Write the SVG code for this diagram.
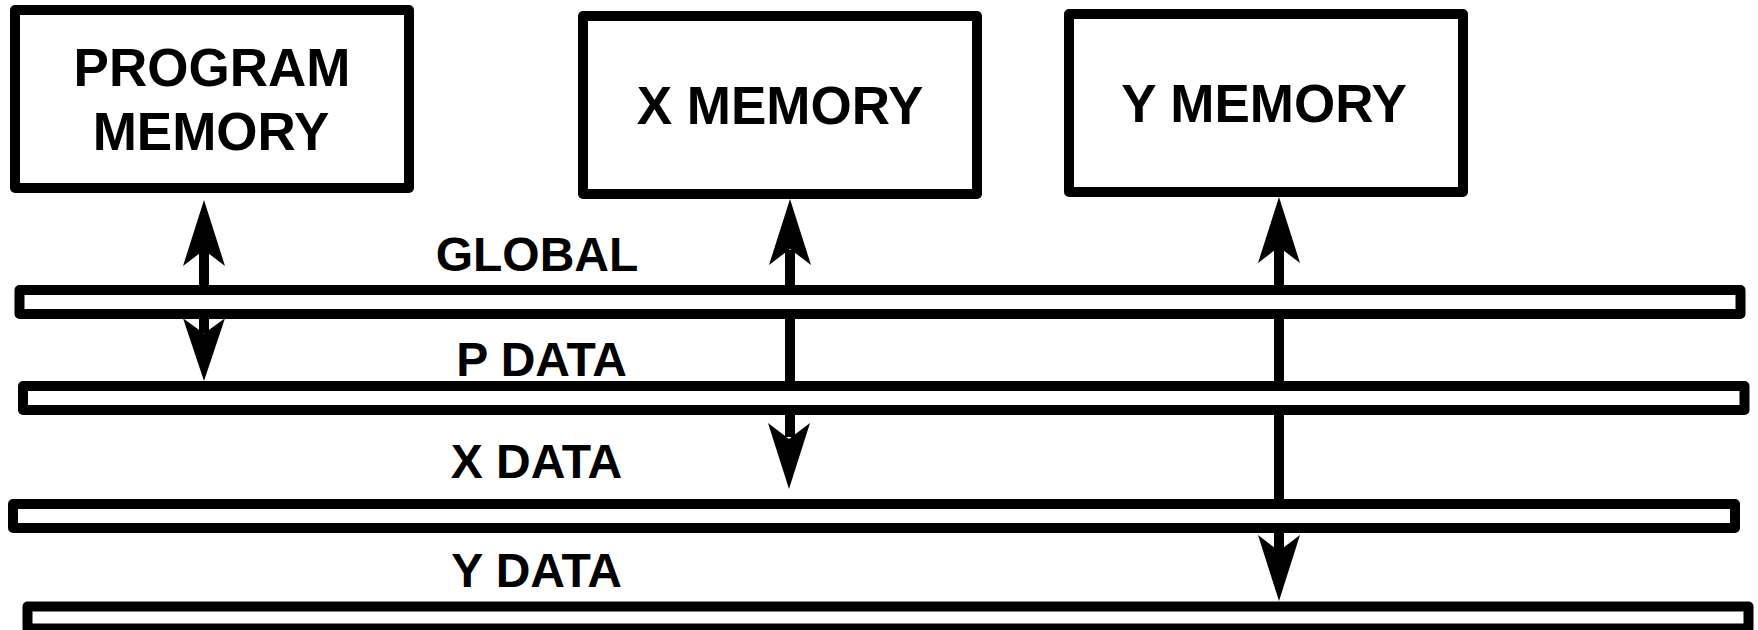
<svg xmlns="http://www.w3.org/2000/svg" xmlns:xlink="http://www.w3.org/1999/xlink" width="1758" height="630" viewBox="0 0 1758 630">
  <style>
    .box { fill: #ffffff; stroke: #000000; stroke-width: 10; stroke-linejoin: round; }
    .bus { fill: #ffffff; stroke: #000000; stroke-width: 10; stroke-linejoin: round; }
    .shaft { stroke: #000000; stroke-width: 10; fill: none; }
    .head { fill: #000000; stroke: none; }
    .t { font-family: "Liberation Sans", Arial, sans-serif; font-weight: bold; fill: #000000; text-anchor: middle; }
    .big { font-size: 53px; }
    .lbl { font-size: 48px; }
  </style>
  <defs>
    <polygon id="ahUp" class="head" points="0,0 21,66 0,50 -21,66"/>
    <polygon id="ahDown" class="head" points="0,0 21,-66 0,-50 -21,-66"/>
  </defs>
  <rect width="1758" height="630" fill="#ffffff"/>

  <g id="connectors">
    <line class="shaft" x1="204" y1="250" x2="204" y2="333"/>
    <use xlink:href="#ahUp" href="#ahUp" x="204" y="200"/>
    <use xlink:href="#ahDown" href="#ahDown" transform="translate(204,381) scale(1,0.95)"/>

    <line class="shaft" x1="790" y1="250" x2="790" y2="437"/>
    <use xlink:href="#ahUp" href="#ahUp" x="790" y="199"/>
    <use xlink:href="#ahDown" href="#ahDown" x="789" y="489"/>

    <line class="shaft" x1="1279" y1="245" x2="1279" y2="551"/>
    <use xlink:href="#ahUp" href="#ahUp" x="1279" y="197"/>
    <use xlink:href="#ahDown" href="#ahDown" x="1279" y="601"/>
  </g>

  <g id="program-memory">
    <rect class="box" x="15" y="10" width="394" height="178"/>
    <text class="t big" x="212" y="86">PROGRAM</text>
    <text class="t big" x="211" y="150">MEMORY</text>
  </g>
  <g id="x-memory">
    <rect class="box" x="583" y="16" width="394" height="178"/>
    <text class="t big" x="780" y="124">X MEMORY</text>
  </g>
  <g id="y-memory">
    <rect class="box" x="1069" y="14" width="394" height="178"/>
    <text class="t big" x="1264" y="122">Y MEMORY</text>
  </g>

  <g id="global-bus">
    <rect class="bus" x="19.5" y="290" width="1721" height="24"/>
    <text class="t lbl" x="537" y="271">GLOBAL</text>
  </g>
  <g id="p-data-bus">
    <rect class="bus" x="23" y="386" width="1721.5" height="24"/>
    <text class="t lbl" x="541.5" y="376">P DATA</text>
  </g>
  <g id="x-data-bus">
    <rect class="bus" x="13" y="504" width="1722" height="24"/>
    <text class="t lbl" x="536.5" y="478">X DATA</text>
  </g>
  <g id="y-data-bus">
    <rect class="bus" x="27.5" y="606.5" width="1721" height="22"/>
    <text class="t lbl" x="536.5" y="587">Y DATA</text>
  </g>
</svg>
